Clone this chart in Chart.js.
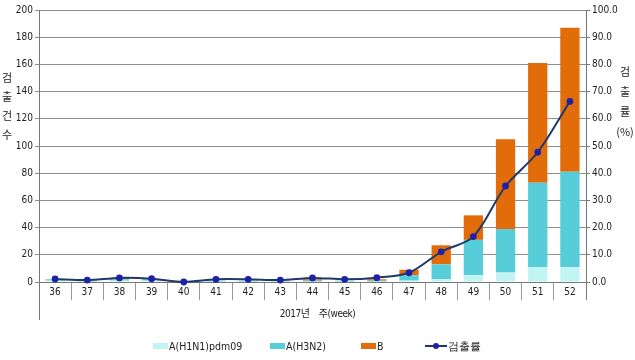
<!DOCTYPE html>
<html><head><meta charset="utf-8">
<script src="https://cdn.jsdelivr.net/npm/chart.js@4"></script>
<style>
html,body{margin:0;padding:0;background:#fff;}
#wrap{position:relative;width:635px;height:360px;}
canvas{position:absolute;left:0;top:0;}
.vt{position:absolute;font-family:'Noto Sans CJK KR',sans-serif;font-size:11px;color:#222;text-align:center;}
#xt{position:absolute;left:0;width:635px;top:305px;text-align:center;font-family:'DejaVu Sans Condensed','Noto Sans CJK KR',sans-serif;font-size:10px;color:#222;letter-spacing:-0.5px;}
#leg{position:absolute;top:339px;left:0;width:635px;height:16px;font-family:'DejaVu Sans Condensed','Liberation Sans',sans-serif;font-size:10.5px;color:#222;}
.li{position:absolute;top:0;height:14px;line-height:14px;white-space:nowrap;}
.sw{display:inline-block;width:15px;height:6px;vertical-align:middle;margin-right:1px;margin-top:-2px;}
.ln{display:inline-block;position:relative;width:22px;height:2px;background:#1f3a68;vertical-align:middle;margin-right:1px;margin-top:-2px;}
.ln i{position:absolute;left:8px;top:-2.5px;width:6px;height:6px;border-radius:50%;background:#1f22a8;}
</style></head>
<body><div id="wrap">
<canvas id="c" width="635" height="360"></canvas>
<div class="vt" style="left:0;top:68px;width:14px;line-height:19px;">검<br>출<br>건<br>수</div>
<div class="vt" style="left:613px;top:61px;width:24px;line-height:20px;">검<br>출<br>률<br>(%)</div>
<div id="xt">2017년&nbsp;&nbsp;&nbsp;&nbsp;주(week)</div>
<div id="leg">
<div class="li" style="left:153px;"><span class="sw" style="background:#c3f4f4"></span>A(H1N1)pdm09</div>
<div class="li" style="left:270px;"><span class="sw" style="background:#57cdd9"></span>A(H3N2)</div>
<div class="li" style="left:361px;"><span class="sw" style="background:#e36c0a"></span>B</div>
<div class="li" style="left:425px;"><span class="ln"><i></i></span>검출률</div>
</div>
</div>
<script>
const weeks = ['36','37','38','39','40','41','42','43','44','45','46','47','48','49','50','51','52'];
const h1n1 = [1,0,1,1,0,0,0,0,0,0,0,1,2,5,7,11,11];
const h3n2 = [1,1,1,1,0,1,1,1,1,1,1,4,11,26,32,62,70];
const bVals = [0,0,1,0,0,0,0,0,1,0,1,4,14,18,66,88,106];
const rate = [1.1,0.7,1.5,1.2,0.0,1.0,1.0,0.7,1.5,1.0,1.6,3.4,11.1,16.7,35.3,47.7,66.4];
const leftTicks = [0,20,40,60,80,100,120,140,160,180,200];
const rightTicks = [0,10,20,30,40,50,60,70,80,90,100];

const tickFont = {family:"'DejaVu Sans Condensed','Liberation Sans',sans-serif", size:10};
const extPlugin = {
  id:'ext',
  afterDraw(chart){
    const ctx = chart.ctx, a = chart.chartArea;
    ctx.save();
    ctx.strokeStyle = '#777'; ctx.lineWidth = 1;
    ctx.beginPath();
    ctx.moveTo(Math.round(a.left)+0.5, a.bottom); ctx.lineTo(Math.round(a.left)+0.5, a.bottom+38);
    ctx.moveTo(Math.round(a.right)+0.5, a.bottom); ctx.lineTo(Math.round(a.right)+0.5, a.bottom+18);
    ctx.stroke();
    ctx.restore();
  }
};

new Chart(document.getElementById('c'), {
  data: {
    labels: weeks,
    datasets: [
      {type:'line', label:'검출률', data:rate, yAxisID:'y2', borderColor:'#1f3a68', borderWidth:2,
       pointBackgroundColor:'#1f22a8', pointBorderColor:'#1f22a8', pointRadius:2.4, tension:0.3, order:0, clip:false},
      {type:'bar', label:'A(H1N1)pdm09', data:h1n1, backgroundColor:'#c3f4f4', stack:'s', order:1},
      {type:'bar', label:'A(H3N2)', data:h3n2, backgroundColor:'#57cdd9', stack:'s', order:1},
      {type:'bar', label:'B', data:bVals, backgroundColor:'#e36c0a', stack:'s', order:1}
    ]
  },
  options: {
    responsive:false, animation:false,
    layout:{padding:{top:10,left:0,right:0,bottom:0}},
    plugins:{legend:{display:false}, tooltip:{enabled:false}},
    datasets:{bar:{categoryPercentage:1, barPercentage:0.6}},
    scales:{
      x:{stacked:true, offset:true,
         grid:{offset:true, drawOnChartArea:false, drawTicks:true, tickLength:18, color:'#999', lineWidth:1},
         border:{color:'#777'},
         ticks:{font:tickFont, color:'#222', padding:-14, maxRotation:0, autoSkip:false},
         afterFit(s){s.height = 78;}},
      y:{position:'left', stacked:true, min:0, max:200,
         afterBuildTicks(s){s.ticks = leftTicks.map(v=>({value:v}));},
         grid:{color:'#8e8e8e', drawTicks:true, tickLength:4},
         border:{color:'#777'},
         ticks:{font:tickFont, color:'#222', padding:2},
         afterFit(s){s.width = 39;}},
      y2:{position:'right', min:0, max:100,
         afterBuildTicks(s){s.ticks = rightTicks.map(v=>({value:v}));},
         grid:{drawOnChartArea:false, drawTicks:true, tickLength:4, color:'#777'},
         border:{color:'#777'},
         ticks:{font:tickFont, color:'#222', padding:2, callback:v=>Number(v).toFixed(1)},
         afterFit(s){s.width = 49;}}
    }
  },
  plugins:[extPlugin]
});
</script>
</body></html>
